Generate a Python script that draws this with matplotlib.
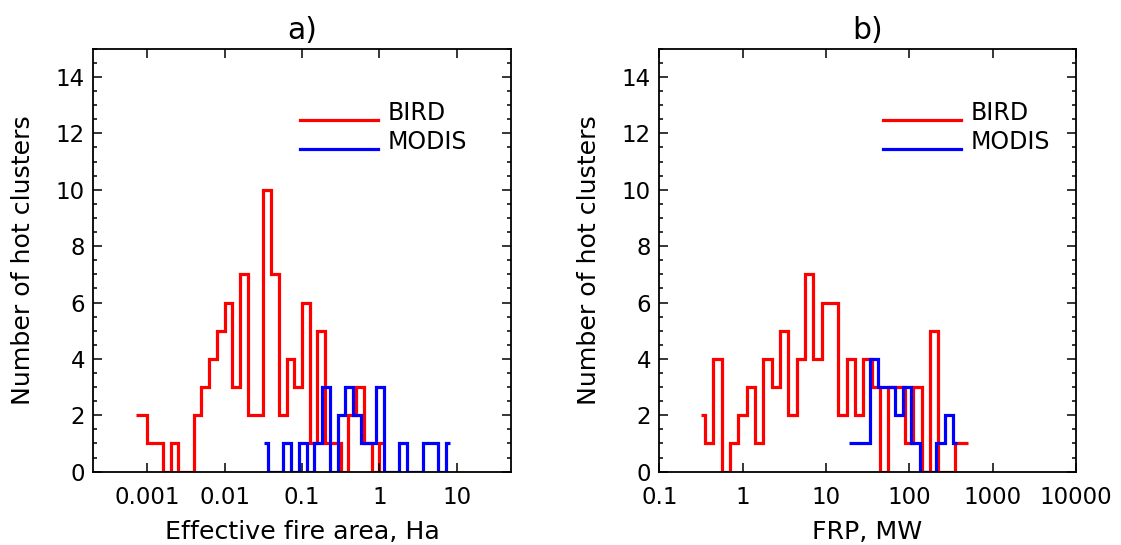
import numpy as np
import matplotlib
matplotlib.use("Agg")
import matplotlib.pyplot as plt
from matplotlib.ticker import FixedLocator, FixedFormatter, MultipleLocator, NullLocator


# histogram bins are 0.1 decade wide; first bin centre (log10) for each series
BIN_W = 0.1

# a) effective fire area, Ha
area_bird_start = -3.15
area_bird = [2, 2, 1, 1, 0, 1, 0, 0, 2, 3, 4, 5, 6, 3, 7, 2, 2, 10, 7, 2,
             4, 3, 6, 1, 5, 1, 1, 0, 2, 3, 1, 0, 1]
area_modis_start = -1.49
area_modis = [1, 0, 0, 1, 0, 1, 0, 1, 3, 0, 2, 3, 2, 1, 1, 3, 0, 0, 1, 0,
              0, 1, 1, 0, 1]

# b) FRP, MW
frp_bird_start = -0.5
frp_bird = [2, 1, 4, 0, 1, 2, 3, 1, 4, 3, 5, 2, 4, 7, 4, 6, 6, 2, 4, 2,
            4, 3, 0, 3, 3, 1, 3, 0, 5, 0, 0, 1, 1]
frp_modis_start = 1.275
frp_modis = [1, 1, 1, 4, 3, 3, 2, 3, 1, 0, 0, 1, 2, 1]

area_ticks = [0.001, 0.01, 0.1, 1, 10]
area_ticklabels = ["0.001", "0.01", "0.1", "1", "10"]
frp_ticks = [0.1, 1, 10, 100, 1000, 10000]
frp_ticklabels = ["0.1", "1", "10", "100", "1000", "10000"]

TICK_FS = 16.5
LABEL_FS = 18.2
LEG_FS = 17
TITLE_FS = 21.5
plt.rcParams["font.family"] = ["DejaVu Sans"]


def hist_edges(start, n):
    # IDL psym=10 style: half bins at both ends, steps between centres
    centres = start + BIN_W * np.arange(n)
    edges = np.concatenate([[centres[0]], centres[:-1] + BIN_W / 2, [centres[-1]]])
    return 10 ** edges


def style_axes(ax, xlim, ticks, labels, xlabel, title):
    ax.set_xscale("log")
    ax.set_xlim(*xlim)
    ax.set_ylim(0, 15)
    ax.xaxis.set_major_locator(FixedLocator(ticks))
    ax.xaxis.set_major_formatter(FixedFormatter(labels))
    ax.xaxis.set_minor_locator(NullLocator())
    ax.yaxis.set_major_locator(MultipleLocator(2))
    ax.yaxis.set_minor_locator(MultipleLocator(0.5))
    ax.tick_params(which="both", direction="in", top=True, right=True,
                   width=1.1, labelsize=TICK_FS)
    ax.tick_params(which="major", length=6.5)
    ax.tick_params(which="minor", length=3.2)
    ax.tick_params(axis="x", pad=10.5)
    ax.tick_params(axis="y", pad=6)
    for s in ax.spines.values():
        s.set_linewidth(1.3)
    ax.set_xlabel(xlabel, labelpad=8, fontsize=LABEL_FS)
    ax.set_ylabel("Number of hot clusters", labelpad=15, fontsize=LABEL_FS)
    ax.set_title(title, pad=7, fontsize=TITLE_FS)


def add_legend(ax, x0):
    leg = ax.legend(loc="center left", bbox_to_anchor=(x0, 0.795),
                    frameon=False, borderpad=0, borderaxespad=0,
                    handlelength=3.3, handletextpad=0.42, labelspacing=0.2,
                    fontsize=LEG_FS)
    for t in leg.get_texts():
        t.set_y(8)
    return leg


fig = plt.figure(figsize=(11.21, 5.45), dpi=100)
ax1 = fig.add_axes([0.0832, 0.1345, 0.3724, 0.7761])
ax2 = fig.add_axes([0.5881, 0.1345, 0.3717, 0.7761])

ax1.stairs(area_bird, hist_edges(area_bird_start, len(area_bird)), baseline=None,
           color="red", lw=2.3, label="BIRD")
ax1.stairs(area_modis, hist_edges(area_modis_start, len(area_modis)), baseline=None,
           color="blue", lw=2.3, label="MODIS")
style_axes(ax1, (2e-4, 50), area_ticks, area_ticklabels,
           "Effective fire area, Ha", "a)")
add_legend(ax1, 0.495)

ax2.stairs(frp_bird, hist_edges(frp_bird_start, len(frp_bird)), baseline=None,
           color="red", lw=2.3, label="BIRD")
ax2.stairs(frp_modis, hist_edges(frp_modis_start, len(frp_modis)), baseline=None,
           color="blue", lw=2.3, label="MODIS")
style_axes(ax2, (0.1, 10000), frp_ticks, frp_ticklabels, "FRP, MW", "b)")
add_legend(ax2, 0.537)

fig.savefig("out.png", dpi=100)
